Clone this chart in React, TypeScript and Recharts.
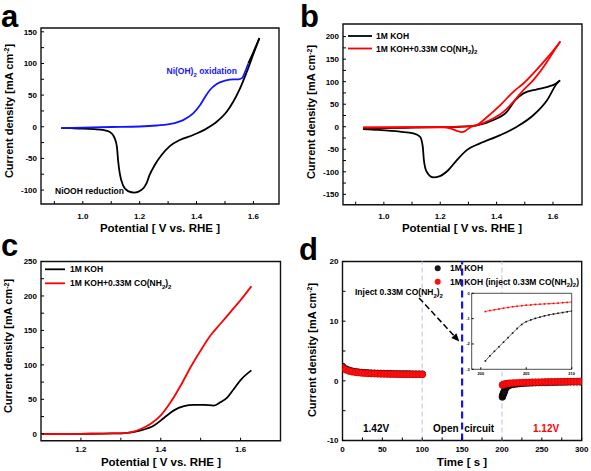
import React from 'react';
import { LineChart, Line, ScatterChart, Scatter, XAxis, YAxis, ReferenceArea, ReferenceLine } from 'recharts';

const FONT = '"Liberation Sans", Arial, Helvetica, sans-serif';
const KOH = '#000000';
const UREA = '#ff0000';
const BLUE = '#1414ff';

// (a) CV in 1M KOH, potential [V] / current density [mA cm-2]
const aForward = [[0.924, -2], [1.0, -1.3], [1.1, -0.4], [1.2, 0.4], [1.26, 2], [1.318, 5.3], [1.353, 10.5], [1.388, 21], [1.412, 34], [1.43, 47], [1.447, 58], [1.471, 67.5], [1.5, 72.7], [1.53, 75], [1.547, 75], [1.559, 76.5], [1.571, 87], [1.582, 100]];
const aForwardTop = [[1.582, 100], [1.6, 118], [1.621, 140]];
const aReverse = [[0.924, -2], [0.96, -2.3], [1.0, -2.8], [1.04, -3.8], [1.07, -5], [1.094, -7.9], [1.112, -18], [1.12, -31.6], [1.124, -52.6], [1.13, -73.6], [1.141, -92], [1.159, -101.6], [1.182, -104], [1.206, -100], [1.224, -89.5], [1.235, -76], [1.253, -60.5], [1.277, -44.7], [1.306, -30.5], [1.341, -21], [1.388, -13], [1.436, -2.6], [1.471, 8], [1.506, 23.7], [1.529, 39.5], [1.553, 60.6], [1.577, 87], [1.6, 115], [1.621, 140]];

// (b) CV with / without urea
const bKohForward = [[0.926, -3.5], [1.0, -3], [1.1, -2], [1.2, -1], [1.27, 0], [1.33, 3], [1.389, 15], [1.436, 33], [1.466, 59], [1.495, 74], [1.543, 83], [1.584, 89], [1.608, 95], [1.625, 103]];
const bKohReverse = [[0.926, -5], [0.98, -7], [1.057, -11], [1.104, -14.8], [1.128, -22], [1.138, -44], [1.142, -74], [1.152, -100], [1.175, -112.5], [1.199, -109.6], [1.229, -96], [1.259, -74], [1.294, -51.8], [1.341, -37], [1.413, -18.5], [1.472, 0], [1.531, 26], [1.579, 59], [1.614, 96], [1.625, 103]];
const bUreaForward = [[0.926, -2], [1.1, -1], [1.2, -0.5], [1.3, 1], [1.33, 3.7], [1.377, 15], [1.424, 33], [1.46, 55.6], [1.495, 81.5], [1.531, 104], [1.567, 133], [1.596, 161], [1.626, 189]];
const bUreaReverse = [[0.926, -1.5], [1.1, -1.5], [1.211, -1.5], [1.235, -3.6], [1.259, -9], [1.276, -11.8], [1.288, -9.6], [1.306, -1.5], [1.33, 3.7], [1.365, 21], [1.413, 48], [1.46, 78], [1.495, 96], [1.531, 119], [1.567, 144], [1.596, 165], [1.626, 189]];

// (c) LSV
const cKoh = [[1.1, -0.5], [1.2, 0], [1.28, 0.5], [1.317, 1.5], [1.35, 4.9], [1.383, 12], [1.408, 23], [1.433, 34], [1.458, 40], [1.483, 42], [1.508, 42], [1.533, 41], [1.55, 46], [1.567, 53], [1.583, 65], [1.6, 78], [1.627, 92]];
const cUrea = [[1.1, -0.5], [1.2, 0], [1.28, 0.5], [1.317, 1.5], [1.35, 7], [1.375, 14.6], [1.4, 26.7], [1.425, 46], [1.45, 70], [1.475, 97], [1.5, 121], [1.525, 143], [1.55, 160], [1.575, 177], [1.6, 194], [1.627, 214]];

// (d) chronoamperometry, time [s] / current density
const dKoh = [[0, 2.4], [4, 2.0], [8, 1.78], [12, 1.63], [16, 1.53], [20, 1.46], [24, 1.4], [28, 1.36], [32, 1.32], [36, 1.29], [40, 1.27], [44, 1.25], [48, 1.23], [52, 1.22], [56, 1.2], [60, 1.19], [64, 1.18], [68, 1.17], [72, 1.16], [76, 1.16], [80, 1.15], [84, 1.15], [88, 1.14], [92, 1.14], [96, 1.13], [100, 1.13],
  [200.5, -2.7], [201, -2.45], [201.5, -2.25], [202, -2.1], [202.5, -1.93], [203, -1.75], [204, -1.39], [205, -1.12], [206, -0.99], [208, -0.82], [210, -0.7], [214, -0.6], [218, -0.52], [222, -0.46], [226, -0.42], [230, -0.38], [234, -0.35], [238, -0.33], [242, -0.31], [246, -0.29], [250, -0.27], [254, -0.26], [258, -0.24], [262, -0.23], [266, -0.22], [270, -0.21], [274, -0.2], [278, -0.19], [282, -0.18], [286, -0.17], [290, -0.17], [294, -0.16], [298, -0.15]];
const dUrea = [[0, 2.2], [4, 1.85], [8, 1.65], [12, 1.52], [16, 1.43], [20, 1.37], [24, 1.32], [28, 1.28], [32, 1.25], [36, 1.22], [40, 1.2], [44, 1.18], [48, 1.16], [52, 1.15], [56, 1.14], [60, 1.13], [64, 1.12], [68, 1.11], [72, 1.1], [76, 1.09], [80, 1.09], [84, 1.08], [88, 1.08], [92, 1.07], [96, 1.07], [100, 1.06],
  [200.5, -0.7], [202, -0.6], [204, -0.52], [206, -0.47], [208, -0.43], [210, -0.4], [214, -0.36], [218, -0.33], [222, -0.3], [226, -0.28], [230, -0.26], [234, -0.25], [238, -0.23], [242, -0.22], [246, -0.21], [250, -0.2], [254, -0.19], [258, -0.18], [262, -0.17], [266, -0.16], [270, -0.15], [274, -0.14], [278, -0.14], [282, -0.13], [286, -0.12], [290, -0.12], [294, -0.11], [298, -0.1]];
const dInsetKoh = [[200.5, -2.67], [201, -2.47], [201.5, -2.29], [202, -2.11], [202.5, -1.93], [203, -1.75], [203.5, -1.57], [204, -1.39], [204.5, -1.23], [205, -1.12], [205.5, -1.05], [206, -0.99], [206.5, -0.94], [207, -0.89], [207.5, -0.85], [208, -0.82], [208.5, -0.79], [209, -0.76], [209.5, -0.73], [210, -0.7]];
const dInsetUrea = [[200.5, -0.72], [201, -0.68], [201.5, -0.65], [202, -0.62], [202.5, -0.59], [203, -0.56], [203.5, -0.53], [204, -0.51], [204.5, -0.49], [205, -0.47], [205.5, -0.46], [206, -0.44], [206.5, -0.43], [207, -0.42], [207.5, -0.41], [208, -0.4], [208.5, -0.39], [209, -0.37], [209.5, -0.36], [210, -0.34]];
const dSwitchTimes = [100, 200];
const dInjectTime = 150;
const dArrow = [[96, 13.9], [146.5, 6.6]];

const potMajor = [1.0, 1.2, 1.4, 1.6];
const potMinor = [0.9, 1.1, 1.3, 1.5];
const cPotMajor = [1.2, 1.4, 1.6];
const cPotMinor = [1.3, 1.5];
const aYMajor = [-100, -50, 0, 50, 100, 150];
const aYMinor = [-75, -25, 25, 75, 125];
const bYMajor = [-150, -100, -50, 0, 50, 100, 150, 200];
const bYMinor = [-125, -75, -25, 25, 75, 125, 175];
const cYMajor = [0, 50, 100, 150, 200, 250];
const cYMinor = [25, 75, 125, 175, 225];
const dXMajor = [0, 50, 100, 150, 200, 250, 300];
const dXMinor = [25, 75, 125, 175, 225, 275];
const dYMajor = [-10, 0, 10, 20];
const dYMinor = [-5, 5, 15];
const insetXMajor = [200, 205, 210];
const insetYMajor = [0, -1, -2, -3];

const pts = (a: number[][]) => a.map(([x, y]) => ({ x, y }));
const same = (list: number[], v: number) => list.some((m) => Math.abs(m - v) < 1e-9);

const xTick = (major: number[], fmt: (v: number) => string, gap: number, fs = 8, len = 3) => (p: any) => {
  const { x, y, payload } = p;
  return (
    <g>
      <line x1={x} x2={x} y1={y} y2={y - len} stroke="#000" strokeWidth={1} />
      {same(major, payload.value) && (
        <text x={x} y={y + gap} textAnchor="middle" fontSize={fs} fontWeight={700} fontFamily={FONT} fill="#000">
          {fmt(payload.value)}
        </text>
      )}
    </g>
  );
};

const yTick = (major: number[], fs = 8, len = 3, pad = 4) => (p: any) => {
  const { x, y, payload } = p;
  return (
    <g>
      <line x1={x} x2={x + len} y1={y} y2={y} stroke="#000" strokeWidth={1} />
      {same(major, payload.value) && (
        <text x={x - pad} y={y + fs * 0.36} textAnchor="end" fontSize={fs} fontWeight={700} fontFamily={FONT} fill="#000">
          {payload.value}
        </text>
      )}
    </g>
  );
};

type Curve = { data: number[][]; color: string };

function CurvePanel(props: {
  left: number; top: number; width: number; height: number;
  margin: any; yw: number; xDomain: number[]; yDomain: number[];
  xMajor: number[]; xMinor: number[]; yMajor: number[]; yMinor: number[];
  gap: number; curves: Curve[];
}) {
  const { left, top, width, height, margin, yw, xDomain, yDomain, xMajor, xMinor, yMajor, yMinor, gap, curves } = props;
  return (
    <div style={{ position: 'absolute', left, top }}>
      <LineChart width={width} height={height} margin={margin}>
        <XAxis type="number" dataKey="x" domain={xDomain} allowDataOverflow ticks={[...xMajor, ...xMinor]} interval={0}
          tick={xTick(xMajor, (v) => v.toFixed(1), gap)} tickSize={0} tickMargin={0} tickLine={false} axisLine={false} height={30} />
        <YAxis type="number" domain={yDomain} allowDataOverflow ticks={[...yMajor, ...yMinor]} interval={0}
          tick={yTick(yMajor)} tickSize={0} tickMargin={0} tickLine={false} axisLine={false} width={yw} />
        <ReferenceArea x1={xDomain[0]} x2={xDomain[1]} y1={yDomain[0]} y2={yDomain[1]} fill="none" stroke="#111" strokeWidth={1.4} />
        {curves.map((c, i) => (
          <Line key={i} data={pts(c.data)} dataKey="y" type="monotone" stroke={c.color} strokeWidth={1.8}
            dot={false} activeDot={false} isAnimationActive={false} />
        ))}
      </LineChart>
    </div>
  );
}

const ball = (color: string, edge: string) => (p: any) => (
  <circle cx={p.cx} cy={p.cy} r={3.4} fill={color} stroke={edge} strokeWidth={0.6} />
);

const square = (color: string) => (p: any) => (
  <rect key={p.index} x={p.cx - 0.8} y={p.cy - 0.8} width={1.6} height={1.6} fill={color} />
);

const arrowShape = (p: any) => {
  const { x1, y1, x2, y2 } = p;
  const a = Math.atan2(y2 - y1, x2 - x1);
  const L = 8, W = 3.5;
  const bx = x2 - L * Math.cos(a), by = y2 - L * Math.sin(a);
  const nx = -Math.sin(a) * W, ny = Math.cos(a) * W;
  return (
    <g>
      <line x1={x1} y1={y1} x2={bx} y2={by} stroke="#000" strokeWidth={1.5} strokeDasharray="6 3" />
      <polygon points={`${x2},${y2} ${bx + nx},${by + ny} ${bx - nx},${by - ny}`} fill="#000" />
    </g>
  );
};

function PanelD() {
  return (
    <div style={{ position: 'absolute', left: 295, top: 235 }}>
      <ScatterChart width={296} height={236} margin={{ top: 26.5, right: 9.3, bottom: 0.5, left: 0 }}>
        <XAxis type="number" dataKey="x" domain={[0, 300]} allowDataOverflow ticks={[...dXMajor, ...dXMinor]} interval={0}
          tick={xTick(dXMajor, (v) => String(v), 11.5)} tickSize={0} tickMargin={0} tickLine={false} axisLine={false} height={30} />
        <YAxis type="number" dataKey="y" domain={[-10, 20]} allowDataOverflow ticks={[...dYMajor, ...dYMinor]} interval={0}
          tick={yTick(dYMajor)} tickSize={0} tickMargin={0} tickLine={false} axisLine={false} width={47.5} />
        <ReferenceArea x1={0} x2={300} y1={-10} y2={20} fill="none" stroke="#111" strokeWidth={1.4} />
        {dSwitchTimes.map((t) => (
          <ReferenceLine key={t} x={t} stroke="#c6c9f3" strokeWidth={1.2} strokeDasharray="5 3" />
        ))}
        <ReferenceLine x={dInjectTime} stroke={BLUE} strokeWidth={2.2} strokeDasharray="7 4" />
        <ReferenceLine segment={pts(dArrow)} shape={arrowShape} />
        <Scatter data={pts(dKoh)} shape={ball('#1a1a1a', '#000')} isAnimationActive={false} />
        <Scatter data={pts(dUrea)} shape={ball('#ff1010', '#d00000')} isAnimationActive={false} />
      </ScatterChart>
    </div>
  );
}

function InsetD() {
  return (
    <div style={{ position: 'absolute', left: 458, top: 288 }}>
      <div style={{ position: 'absolute', left: 13.7, top: 5.3, width: 100, height: 76, background: '#fff' }} />
      <LineChart width={122} height={96} margin={{ top: 5.3, right: 8.3, bottom: 4.7, left: 0 }}>
        <XAxis type="number" dataKey="x" domain={[199, 210]} allowDataOverflow ticks={insetXMajor} interval={0}
          tick={xTick(insetXMajor, (v) => String(v), 6, 4, 2)} tickSize={0} tickMargin={0} tickLine={false} axisLine={false} height={10} />
        <YAxis type="number" domain={[-3, 0]} allowDataOverflow ticks={insetYMajor} interval={0}
          tick={yTick(insetYMajor, 4, 2, 2)} tickSize={0} tickMargin={0} tickLine={false} axisLine={false} width={13.7} />
        <ReferenceArea x1={199} x2={210} y1={-3} y2={0} fill="none" stroke="#222" strokeWidth={0.8} />
        <Line data={pts(dInsetKoh)} dataKey="y" type="monotone" stroke="#222" strokeWidth={0.7}
          dot={square('#111')} activeDot={false} isAnimationActive={false} />
        <Line data={pts(dInsetUrea)} dataKey="y" type="monotone" stroke={UREA} strokeWidth={0.7}
          dot={square(UREA)} activeDot={false} isAnimationActive={false} />
      </LineChart>
    </div>
  );
}

const txt = { fontFamily: FONT, fontWeight: 700 } as const;

function Overlay() {
  const yTitle = (x: number, y: number) => (
    <text transform={`translate(${x},${y}) rotate(-90)`} textAnchor="middle" fontSize={11} {...txt} fill="#000">
      Current density [mA cm<tspan dy={-3.5} fontSize={7}>-2</tspan><tspan dy={3.5}>]</tspan>
    </text>
  );
  const xTitle = (x: number, y: number, s: string) => (
    <text x={x} y={y} textAnchor="middle" fontSize={11.5} {...txt} fill="#000">{s}</text>
  );
  const urea = (x: number, y: number, pre: string) => (
    <text x={x} y={y} fontSize={8.5} {...txt} fill="#000">
      {pre}CO(NH<tspan dy={2.5} fontSize={6}>2</tspan><tspan dy={-2.5}>)</tspan><tspan dy={2.5} fontSize={6}>2</tspan>
    </text>
  );
  return (
    <svg width={591} height={471} style={{ position: 'absolute', left: 0, top: 0, pointerEvents: 'none' }}>
      <text x={1} y={27} fontSize={31} {...txt}>a</text>
      <text x={300} y={27} fontSize={31} {...txt}>b</text>
      <text x={1} y={256} fontSize={31} {...txt}>c</text>
      <text x={299} y={260} fontSize={31} {...txt}>d</text>

      {yTitle(12.5, 111)}
      {yTitle(315, 112)}
      {yTitle(12.3, 346)}
      {yTitle(315.7, 350)}
      {xTitle(160, 232, 'Potential [ V vs. RHE ]')}
      {xTitle(462, 232, 'Potential [ V vs. RHE ]')}
      {xTitle(161, 466, 'Potential [ V vs. RHE ]')}
      {xTitle(462, 466, 'Time [ s ]')}

      <text x={166.5} y={74} fontSize={8.5} {...txt} fill={BLUE}>
        Ni(OH)<tspan dy={2.5} fontSize={6}>2</tspan><tspan dy={-2.5}> oxidation</tspan>
      </text>
      <text x={55} y={194} fontSize={8.5} {...txt} fill="#000">NiOOH reduction</text>

      <line x1={348} x2={372} y1={36} y2={36} stroke={KOH} strokeWidth={1.8} />
      <text x={376} y={39} fontSize={8.5} {...txt}>1M KOH</text>
      <line x1={348} x2={372} y1={48.5} y2={48.5} stroke={UREA} strokeWidth={1.8} />
      {urea(376, 51.5, '1M KOH+0.33M ')}

      <line x1={45} x2={65} y1={269.3} y2={269.3} stroke={KOH} strokeWidth={1.8} />
      <text x={70} y={272.3} fontSize={8.5} {...txt}>1M KOH</text>
      <line x1={45} x2={65} y1={283.3} y2={283.3} stroke={UREA} strokeWidth={1.8} />
      {urea(70, 286.3, '1M KOH+0.33M ')}

      <circle cx={437.7} cy={268.3} r={3} fill="#1a1a1a" />
      <text x={450} y={271.3} fontSize={8.5} {...txt}>1M KOH</text>
      <circle cx={437.7} cy={281.7} r={3} fill="#ff1010" />
      <text x={450} y={284.7} fontSize={8.5} {...txt} fill="#000">
        1M KOH (inject 0.33M CO(NH<tspan dy={2.5} fontSize={6}>2</tspan><tspan dy={-2.5}>)</tspan><tspan dy={2.5} fontSize={6}>2</tspan><tspan dy={-2.5}>)</tspan>
      </text>
      {urea(355, 295, 'Inject 0.33M ')}

      <text x={363} y={432} fontSize={10} {...txt} fill="#000">1.42V</text>
      <text x={433} y={432} fontSize={10} {...txt} fill="#000">Open{'\u00a0\u00a0'}circuit</text>
      <text x={533} y={432} fontSize={10} {...txt} fill={UREA}>1.12V</text>
    </svg>
  );
}

export default function App() {
  return (
    <div style={{ position: 'absolute', left: 0, top: 0, width: 591, height: 471, background: '#fff', overflow: 'hidden' }}>
      <CurvePanel left={0} top={0} width={295} height={235} margin={{ top: 28, right: 16, bottom: 1, left: 0 }} yw={41}
        xDomain={[0.853, 1.69]} yDomain={[-122, 156]} xMajor={potMajor} xMinor={potMinor} yMajor={aYMajor} yMinor={aYMinor} gap={14.5}
        curves={[{ data: aReverse, color: KOH }, { data: aForwardTop, color: KOH }, { data: aForward, color: BLUE }]} />
      <CurvePanel left={295} top={0} width={296} height={235} margin={{ top: 24, right: 9, bottom: 0.3, left: 0 }} yw={48}
        xDomain={[0.855, 1.703]} yDomain={[-173, 228]} xMajor={potMajor} xMinor={potMinor} yMajor={bYMajor} yMinor={bYMinor} gap={14.5}
        curves={[{ data: bKohReverse, color: KOH }, { data: bKohForward, color: KOH }, { data: bUreaForward, color: UREA }, { data: bUreaReverse, color: UREA }]} />
      <CurvePanel left={0} top={235} width={295} height={236} margin={{ top: 26.5, right: 14.5, bottom: 0.3, left: 0 }} yw={41}
        xDomain={[1.1, 1.7]} yDomain={[-10, 250]} xMajor={cPotMajor} xMinor={cPotMinor} yMajor={cYMajor} yMinor={cYMinor} gap={11.5}
        curves={[{ data: cKoh, color: KOH }, { data: cUrea, color: UREA }]} />
      <PanelD />
      <InsetD />
      <Overlay />
    </div>
  );
}
